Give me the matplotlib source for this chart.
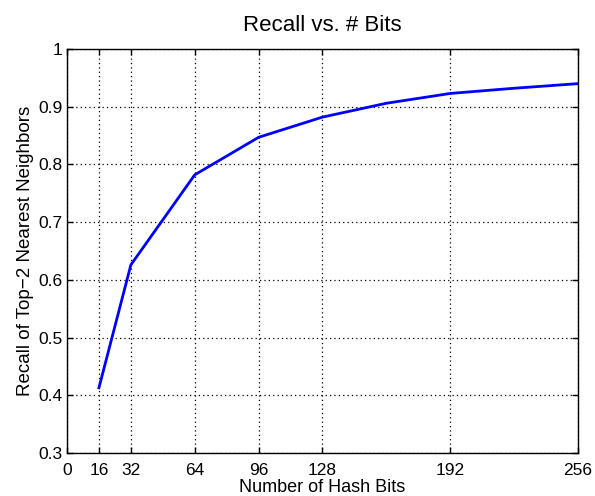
import matplotlib
matplotlib.use("Agg")
import matplotlib.pyplot as plt

plt.rcParams['font.family'] = ['Liberation Sans', 'DejaVu Sans']

bits = [16, 32, 64, 96, 128, 160, 192, 224, 256]
recall = [0.413, 0.626, 0.782, 0.847, 0.882, 0.906, 0.923, 0.932, 0.940]
xticks = [0, 16, 32, 64, 96, 128, 192, 256]
yticks = [0.3, 0.4, 0.5, 0.6, 0.7, 0.8, 0.9, 1]

fig = plt.figure(figsize=(5.95, 4.96), dpi=100)
ax = fig.add_axes([0.1126, 0.0867, 0.8588, 0.8145])

ax.plot(bits, recall, color='#0000ff', linewidth=2)

ax.set_xlim(0, 256)
ax.set_ylim(0.3, 1)
ax.set_xticks(xticks)
ax.set_yticks(yticks)
ax.set_yticklabels(['0.3', '0.4', '0.5', '0.6', '0.7', '0.8', '0.9', '1'])
ax.tick_params(direction='in', top=True, right=True, labelsize=12.5, length=4, width=1)
ax.tick_params(axis='x', pad=7)
ax.tick_params(axis='y', pad=3)
ax.grid(True, color='black', linestyle=(0, (1, 2.5)), linewidth=0.9)
for s in ax.spines.values():
    s.set_linewidth(1)

ax.set_title('Recall vs. # Bits', fontsize=16, pad=13)
ax.set_xlabel('Number of Hash Bits', fontsize=13, labelpad=1)
ax.set_ylabel('Recall of Top\u22122 Nearest Neighbors', fontsize=13.5, labelpad=3)

fig.savefig('out.png', dpi=100)
